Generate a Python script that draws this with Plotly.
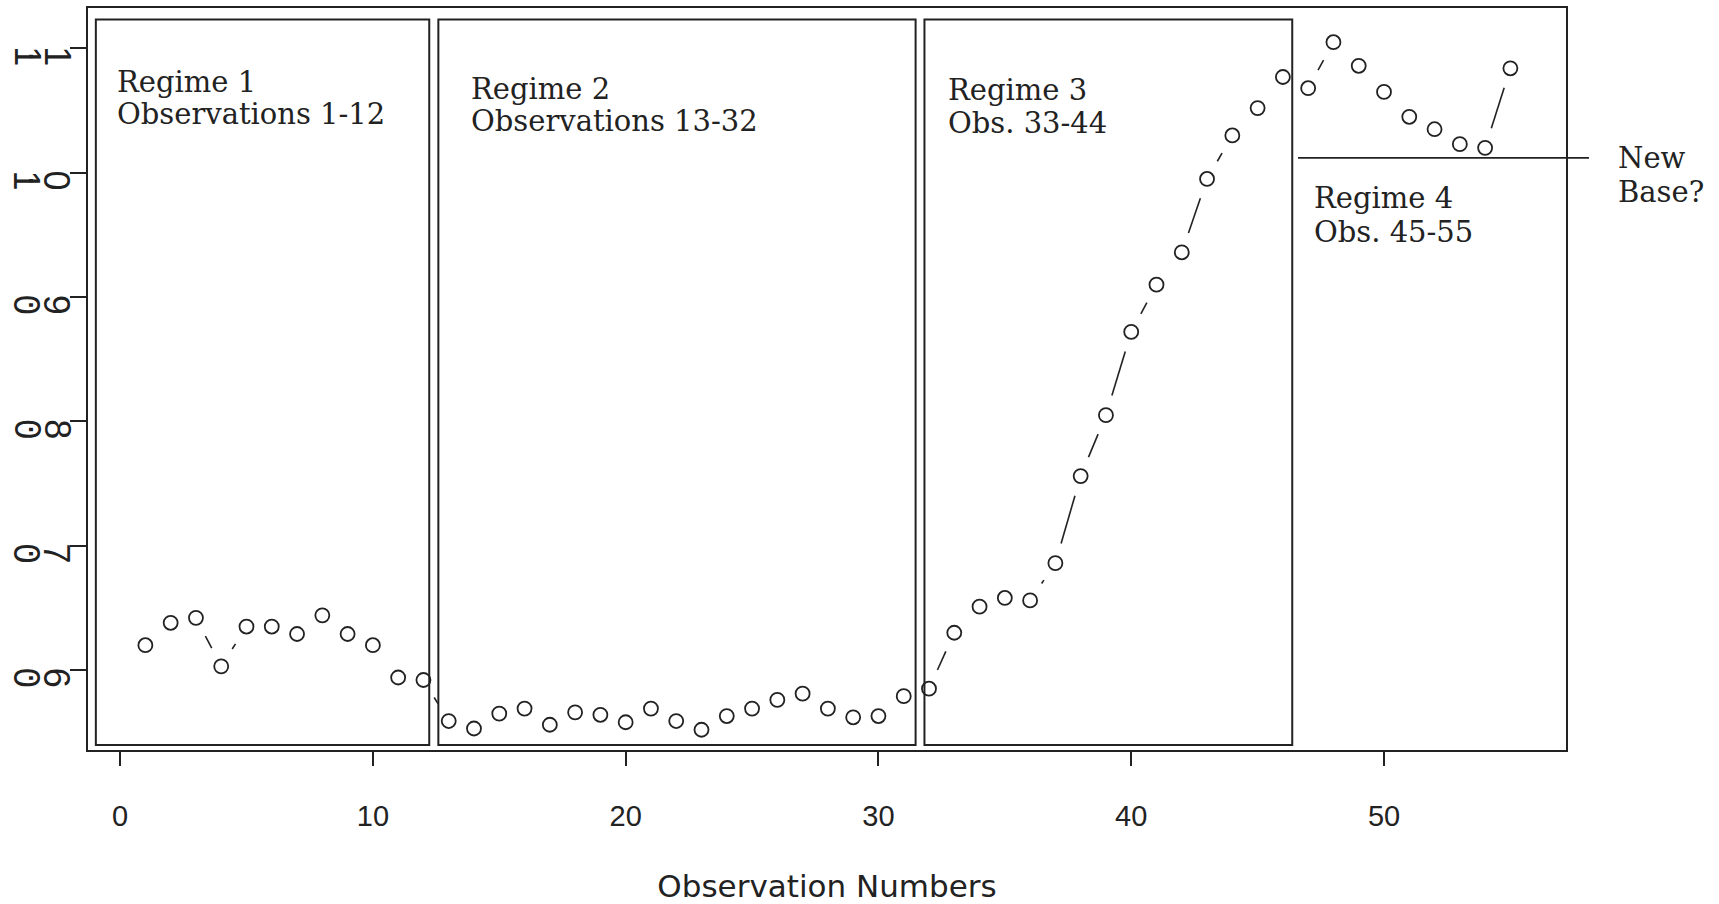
import math
import plotly.graph_objects as go

# Observation index and measured value for the 55 observations
obs = list(range(1, 56))
values = [
    0.620, 0.638, 0.642, 0.603, 0.635, 0.635, 0.629, 0.644, 0.629, 0.620,
    0.594, 0.592, 0.559, 0.553, 0.565, 0.569, 0.556, 0.566, 0.564, 0.558,
    0.569, 0.559, 0.552, 0.563, 0.569, 0.576, 0.581, 0.569, 0.562, 0.563,
    0.579, 0.585, 0.630, 0.651, 0.658, 0.656, 0.686, 0.756, 0.805, 0.872,
    0.910, 0.936, 0.995, 1.030, 1.052, 1.077, 1.068, 1.105, 1.086, 1.065,
    1.045, 1.035, 1.023, 1.020, 1.084,
]

x_ticks = [0, 10, 20, 30, 40, 50]
y_ticks = [0.6, 0.7, 0.8, 0.9, 1.0, 1.1]
y_tick_labels = ["0.6", "0.7", "0.8", "0.9", "1.0", "1.1"]

# Regime boxes (x extent in observation units)
regime_spans = [(-0.96, 12.23), (12.59, 31.47), (31.82, 46.37)]
regime_box_y = (0.5397, 1.1233)
new_base_level = 1.012

W, H = 1719, 904
ML, MR, MT, MB = 88, 153, 8, 154
XR = [-1.27, 57.2]
YR = [0.5357, 1.1325]
plot_w = W - ML - MR
plot_h = H - MT - MB
px_x = plot_w / (XR[1] - XR[0])
px_y = plot_h / (YR[1] - YR[0])

INK = "#222222"
GAP = 20.5  # pixel gap left around each point by the connecting segments

# Connecting segments, broken around each point (type "b" style)
seg_x, seg_y = [], []
for i in range(len(obs) - 1):
    x0, y0, x1, y1 = obs[i], values[i], obs[i + 1], values[i + 1]
    dx, dy = (x1 - x0) * px_x, (y1 - y0) * px_y
    L = math.hypot(dx, dy)
    if L > 2 * GAP:
        f = GAP / L
        seg_x += [x0 + f * (x1 - x0), x1 - f * (x1 - x0), None]
        seg_y += [y0 + f * (y1 - y0), y1 - f * (y1 - y0), None]

fig = go.Figure()
fig.add_trace(go.Scatter(x=seg_x, y=seg_y, mode="lines",
                         line=dict(color=INK, width=1.6),
                         hoverinfo="skip", showlegend=False))
fig.add_trace(go.Scatter(x=obs, y=values, mode="markers",
                         marker=dict(symbol="circle-open", size=14, color=INK,
                                     line=dict(color=INK, width=1.8)),
                         showlegend=False))

shapes = []
for x0, x1 in regime_spans:
    shapes.append(dict(type="rect", xref="x", yref="y",
                       x0=x0, x1=x1, y0=regime_box_y[0], y1=regime_box_y[1],
                       line=dict(color=INK, width=2)))

def to_paper_y(v):
    return (v - YR[0]) / (YR[1] - YR[0])

def px_to_paper_x(px):
    return (px - ML) / plot_w

nb_y = to_paper_y(new_base_level)
shapes.append(dict(type="line", xref="paper", yref="paper",
                   x0=px_to_paper_x(1298), x1=px_to_paper_x(1589),
                   y0=nb_y, y1=nb_y, line=dict(color=INK, width=1.8)))

serif = dict(family="DejaVu Serif", size=29, color=INK)
notes = [
    ("Regime 1", -0.2, 1.0729), ("Observations 1-12", -0.2, 1.0472),
    ("Regime 2", 13.80, 1.0674), ("Observations 13-32", 13.80, 1.0418),
    ("Regime 3", 32.67, 1.0665), ("Obs. 33-44", 32.67, 1.0399),
    ("Regime 4", 47.15, 0.9796), ("Obs. 45-55", 47.15, 0.9525),
]
annotations = []
for txt, ax, ay in notes:
    annotations.append(dict(text=txt, x=ax, y=ay, xref="x", yref="y",
                            xanchor="left", yanchor="middle",
                            showarrow=False, font=serif))
for txt, dy in (("New", 0), ("Base?", -33.7)):
    annotations.append(dict(text=txt, x=px_to_paper_x(1616), y=nb_y,
                            xref="paper", yref="paper", yshift=dy,
                            xanchor="left", yanchor="middle",
                            showarrow=False, font=serif))

# Vertical-axis labels: each glyph turned a quarter turn, laid left to right
glyph_font = dict(family="Liberation Sans", size=36, color=INK)
offsets = [-61.3, -46.5, -31.3]
for val, lab in zip(y_ticks, y_tick_labels):
    for ch, off in zip(lab, offsets):
        annotations.append(dict(text=ch, x=0, y=val, xref="paper", yref="y",
                                xshift=off, yshift=-7.5, textangle=90,
                                xanchor="center", yanchor="middle",
                                showarrow=False, font=glyph_font))

fig.update_layout(
    width=W, height=H,
    margin=dict(l=ML, r=MR, t=MT, b=MB, autoexpand=False),
    paper_bgcolor="white", plot_bgcolor="white",
    shapes=shapes, annotations=annotations,
    xaxis=dict(range=XR, tickvals=x_ticks, ticks="outside", ticklen=14,
               tickwidth=1.5, tickcolor=INK, showgrid=False, zeroline=False,
               showline=True, mirror=True, linecolor=INK, linewidth=2,
               automargin=False, ticklabelstandoff=25,
               tickfont=dict(family="Liberation Sans", size=29, color=INK),
               title=dict(text="Observation Numbers", standoff=46,
                          font=dict(family="DejaVu Sans", size=31, color=INK))),
    yaxis=dict(range=YR, tickvals=y_ticks, ticktext=["" for _ in y_ticks],
               ticks="outside", ticklen=16, tickwidth=1.5, tickcolor=INK,
               showgrid=False, zeroline=False, showline=True, mirror=True,
               linecolor=INK, linewidth=2, automargin=False),
)

fig.write_html("out.html")
